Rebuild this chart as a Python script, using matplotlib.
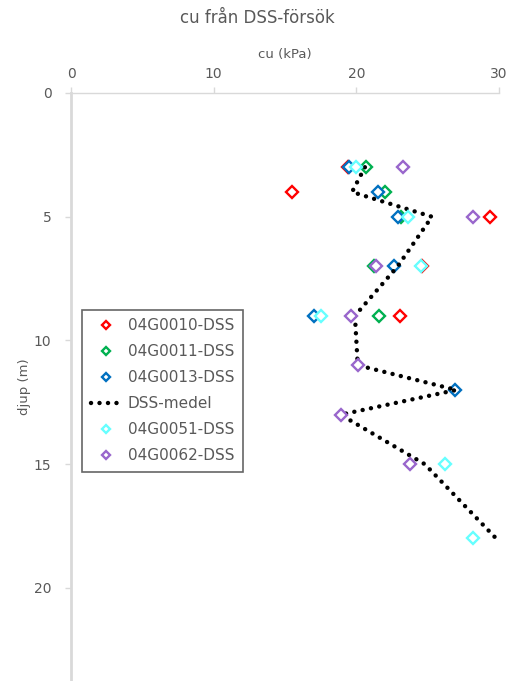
import matplotlib
matplotlib.use("Agg")
import matplotlib.pyplot as plt

# data
s10_depth = [3, 4, 5, 7, 9]
s10_cu = [19.4, 15.5, 29.4, 24.6, 23.05]
s11_depth = [3, 4, 5, 7, 9]
s11_cu = [20.7, 22.0, 23.1, 21.25, 21.6]
s13_depth = [3, 4, 5, 7, 9, 12]
s13_cu = [19.5, 21.5, 22.9, 22.65, 17.05, 26.95]
medel_depth = [3, 4, 5, 7, 9, 11, 12, 13, 15, 18]
medel_cu = [20.6, 19.7, 25.3, 22.9, 19.9, 20.1, 27.0, 18.9, 24.8, 29.8]
s51_depth = [3, 5, 7, 9, 15, 18]
s51_cu = [20.0, 23.6, 24.5, 17.55, 26.2, 28.2]
s62_depth = [3, 5, 7, 9, 11, 13, 15]
s62_cu = [23.3, 28.2, 21.4, 19.6, 20.13, 18.9, 23.75]

xticks = [0, 10, 20, 30]
yticks = [0, 5, 10, 15, 20]

plt.rcParams['font.family'] = ['DejaVu Sans']
grey = '#595959'
fig = plt.figure(figsize=(5.14, 6.81), dpi=100)
ax = fig.add_axes([71/514, 0.0, 428/514, 588/681])

mk = dict(marker='D', linestyle='none', markersize=5.8, markerfacecolor='white', markeredgewidth=1.7)
ax.plot(s10_cu, s10_depth, markeredgecolor='#FF0000', label='04G0010-DSS', **mk)
ax.plot(s11_cu, s11_depth, markeredgecolor='#00B050', label='04G0011-DSS', **mk)
ax.plot(s13_cu, s13_depth, markeredgecolor='#0070C0', label='04G0013-DSS', **mk)
ax.plot(medel_cu, medel_depth, color='black', linestyle=(0, (0.01, 1.9)), linewidth=3.2,
        dash_capstyle='round', label='DSS-medel')
ax.plot(s51_cu, s51_depth, markeredgecolor='#66FFFF', label='04G0051-DSS', **mk)
ax.plot(s62_cu, s62_depth, markeredgecolor='#9966CC', label='04G0062-DSS', **mk)

ax.set_xlim(0, 30)
ax.set_ylim(23.76, 0)
ax.set_xticks(xticks)
ax.set_yticks(yticks)
ax.xaxis.tick_top()
ax.xaxis.set_label_position('top')
ax.set_xlabel('cu (kPa)', fontsize=9.5, color=grey, labelpad=6)
ax.set_ylabel('djup (m)', fontsize=9.5, color=grey, labelpad=2)
ax.tick_params(colors='#D9D9D9', labelcolor=grey, labelsize=10, length=4, width=1)
ax.tick_params(axis='x', pad=5)
ax.tick_params(axis='y', pad=10)
for s in ['right', 'bottom']:
    ax.spines[s].set_visible(False)
ax.spines['left'].set_color('#D9D9D9')
ax.spines['left'].set_linewidth(2)
ax.spines['top'].set_color('#D9D9D9')
ax.spines['top'].set_linewidth(1)

fig.text(0.5, 1 - 18/681, 'cu från DSS-försök', ha='center', va='center', fontsize=12, color=grey)

leg = ax.legend(loc='upper left', bbox_to_anchor=(0.026, 0.631), fontsize=11, frameon=True,
                fancybox=False, edgecolor='#404040', labelcolor=grey, handlelength=2.0,
                handletextpad=0.45, labelspacing=0.72, borderpad=0.55, borderaxespad=0,
                markerscale=0.75)
leg.get_frame().set_linewidth(1.2)

fig.savefig('out.png', dpi=100)
